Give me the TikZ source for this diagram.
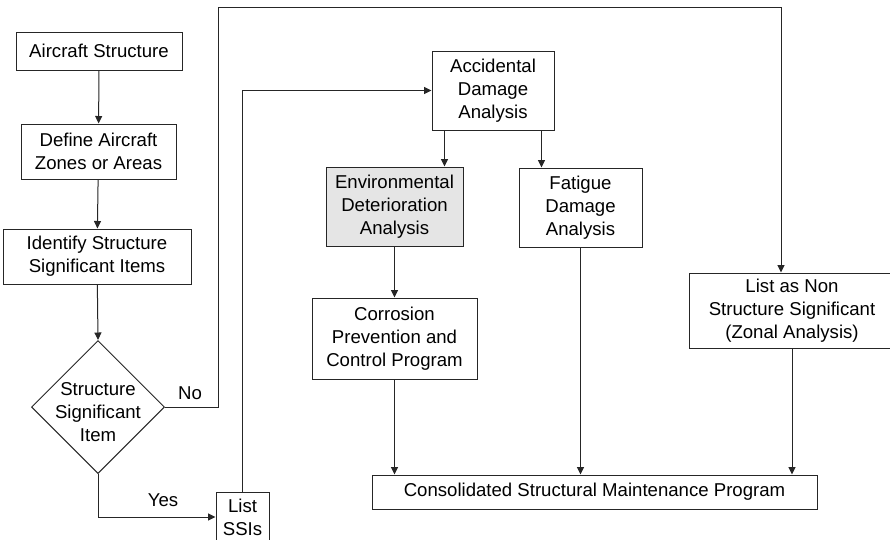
\documentclass[tikz,border=0pt]{standalone}
\usepackage{fontspec}
\setmainfont{Liberation Sans}
\usetikzlibrary{arrows.meta,shapes.geometric}
\begin{document}
\begin{tikzpicture}[x=1pt,y=-1pt,
  every node/.style={font=\fontsize{18.6}{23.3}\selectfont},
  box/.style={draw=black!85,line width=1pt,rectangle,inner sep=0pt,align=center},
  shaded/.style={box,fill=black!10},
  arr/.style={draw=black!85,line width=1pt,-{Triangle[length=7.5pt,width=7pt]}},
  lbl/.style={inner sep=0pt}]
\useasboundingbox (0,0) rectangle (890,539);
\clip (0,0) rectangle (890,539);
\fill[white] (0,0) rectangle (890,539);

% left column
\node[box,minimum width=166,minimum height=38] (a1) at (99,51) {Aircraft Structure};
\node[box,minimum width=155,minimum height=55] (a2) at (98.5,151.5) {Define Aircraft\\Zones or Areas};
\node[box,minimum width=188,minimum height=55] (a3) at (97,256.5) {Identify Structure\\Significant Items};
\node[draw=black!85,line width=1pt,diamond,minimum width=133,minimum height=133,inner sep=0pt] (dia) at (98,407) {};
\node[lbl,align=center] (diatxt) at (98,412) {Structure\\Significant\\Item};
\node[box,minimum width=53,minimum height=50] (ssi) at (242.5,517) {List\\SSIs};

% analysis boxes
\node[box,minimum width=122,minimum height=79] (acc) at (493,90.5) {Accidental\\Damage\\Analysis};
\node[shaded,minimum width=137,minimum height=79] (env) at (394.5,206.5) {Environmental\\Deterioration\\Analysis};
\node[box,minimum width=123,minimum height=79] (fat) at (580.5,207.5) {Fatigue\\Damage\\Analysis};
\node[box,minimum width=165,minimum height=81] (cor) at (394.5,338.5) {Corrosion\\Prevention and\\Control Program};
\node[box,minimum width=206,minimum height=75] (non) at (792,310.5) {List as Non\\Structure Significant\\(Zonal Analysis)};
\node[box,minimum width=445,minimum height=34] (con) at (594.5,492) {Consolidated Structural Maintenance Program};

% routing points
\coordinate (nw) at (218,7);
\coordinate (ne) at (781,7);
\coordinate (accL) at ([xshift=13]acc.south west);
\coordinate (accR) at ([xshift=-13]acc.south east);

% connectors
\draw[arr] (a1) -- (a2);
\draw[arr] (a2) -- (a3);
\draw[arr] (a3) -- (dia.north);
\draw[arr] (dia.east) -| (nw) -| (ne |- non.north);
\draw[arr] (dia.south) |- (ssi.west);
\draw[arr] (ssi.north) |- (acc.west);
\draw[arr] (accL) -- (accL |- env.north);
\draw[arr] (accR) -- (accR |- fat.north);
\draw[arr] (env) -- (cor);
\draw[arr] (cor.south) -- (cor.south |- con.north);
\draw[arr] (fat.south) -- (fat.south |- con.north);
\draw[arr] (non.south) -- (non.south |- con.north);

% branch labels
\node[lbl] (no) at (190,393) {No};
\node[lbl] (yes) at (163,500) {Yes};
\end{tikzpicture}
\end{document}
